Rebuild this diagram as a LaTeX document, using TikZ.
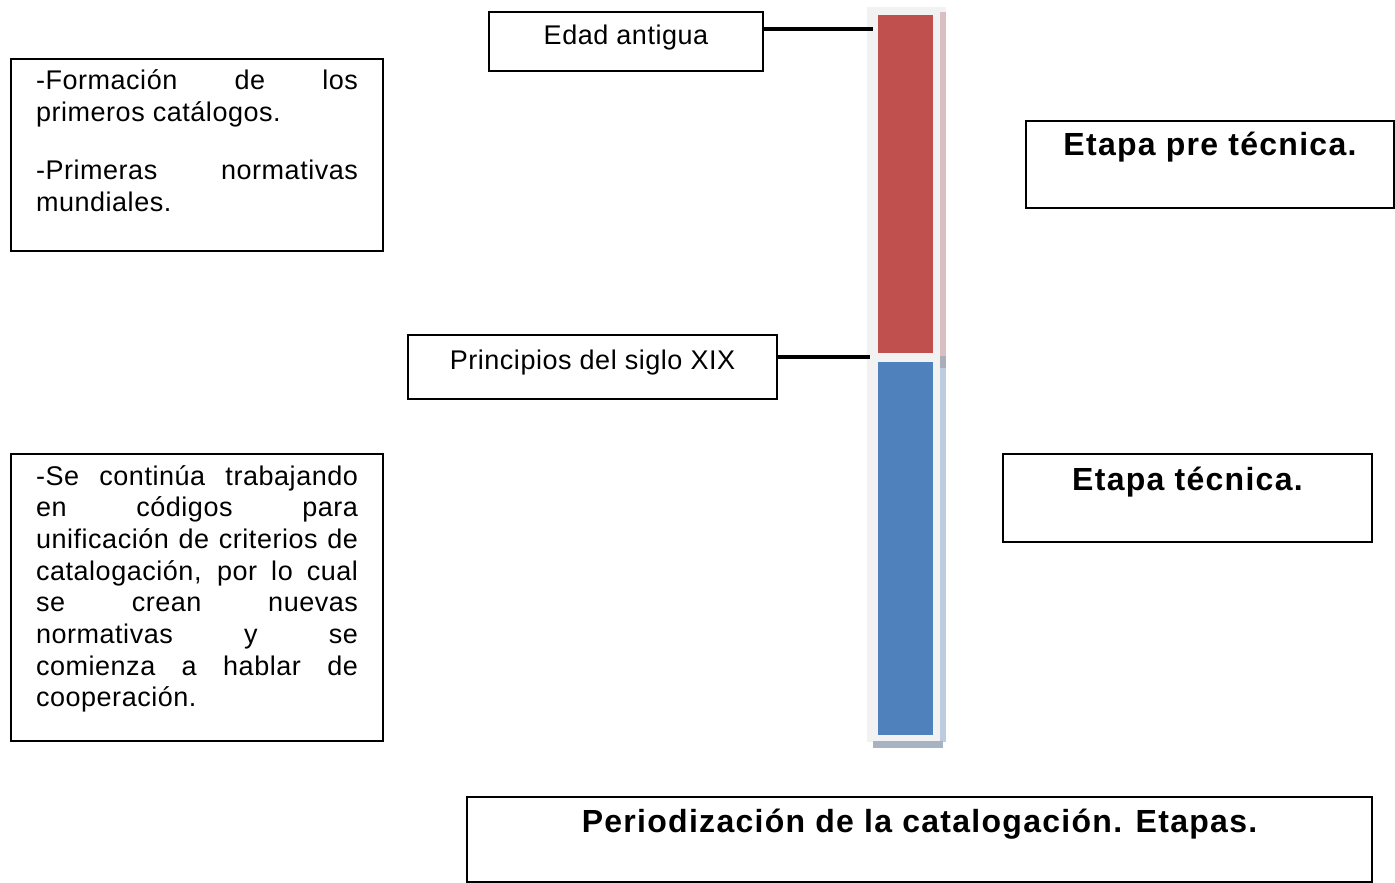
\documentclass[tikz,border=0pt]{standalone}
\usepackage{fontspec}
\setmainfont{Liberation Sans}[LetterSpace=2]
\newfontfamily\titlefont{Liberation Sans}[LetterSpace=4]
\newcommand\JustLine[1]{\makebox[\linewidth][s]{#1}}
\definecolor{redbar}{HTML}{C0504D}
\definecolor{bluebar}{HTML}{4F81BD}
\definecolor{barbg}{HTML}{F2F2F2}
\definecolor{stripred}{HTML}{D9BEC2}
\definecolor{stripblue}{HTML}{BCCBDD}
\definecolor{stripmid}{HTML}{A9AEB8}
\definecolor{barshadow}{HTML}{A7B3C3}
\begin{document}
\begin{tikzpicture}[x=0.5pt,y=-0.5pt,
  every node/.style={font=\fontsize{13.5pt}{15.85pt}\selectfont},
  box/.style={draw, line width=1pt, inner sep=0pt, anchor=north west},
  textbox/.style={box, inner xsep=12.5pt, inner ysep=0pt},
  titlebox/.style={box, font=\titlefont\bfseries\fontsize{16pt}{19pt}\selectfont},
  conn/.style={line width=2pt},
  barpart/.style={inner sep=0pt, anchor=north west, minimum width=27.5pt}
]
\useasboundingbox (0,0) rectangle (1395,882);

% bar
\fill[barbg] (867,7) rectangle (946,742);
\fill[stripred] (940,12) rectangle (946,356);
\fill[stripmid] (940,356) rectangle (946,368);
\fill[stripblue] (940,368) rectangle (946,742);
\fill[barshadow] (873,741) rectangle (943,748);
\node[barpart, fill=redbar, minimum height=169pt] (red) at (878,15) {};
\node[barpart, fill=bluebar, minimum height=186.5pt] (blue) at (878,362) {};

% left text boxes
\node[textbox] (f1) at (10,58) {\parbox[c][96pt][t]{161pt}{%
  \rule{0pt}{15.5pt}\JustLine{-Formación de los}\\
  primeros catálogos.\par\vspace{13pt}
  \JustLine{-Primeras normativas}\\
  mundiales.}};
\node[textbox] (f2) at (10,453) {\parbox[c][143.5pt][t]{161pt}{%
  \rule{0pt}{15.5pt}\JustLine{-Se continúa trabajando}\\
  \JustLine{en códigos para}\\
  \JustLine{unificación de criterios de}\\
  \JustLine{catalogación, por lo cual}\\
  \JustLine{se crean nuevas}\\
  \JustLine{normativas y se}\\
  \JustLine{comienza a hablar de}\\
  cooperación.}};

% date boxes
\node[box, minimum width=137pt, text height=16.5pt, text depth=13pt] (edad) at (488,11) {Edad antigua};
\node[box, minimum width=184.5pt, text height=17pt, text depth=15pt] (siglo) at (407,334) {Principios del siglo XIX};

% connectors
\coordinate (k1) at (873,29);
\coordinate (k2) at (870,357);
\draw[conn] (edad.east |- k1) -- (k1);
\draw[conn] (siglo.east |- k2) -- (k2);

% stage boxes
\node[titlebox, minimum width=184pt, text height=17.5pt, text depth=26pt] (pre) at (1025,120) {Etapa pre técnica.};
\node[titlebox, minimum width=184.5pt, text height=18pt, text depth=26pt] (tec) at (1002,453) {Etapa técnica.};
\node[titlebox, minimum width=452.5pt, text height=17.5pt, text depth=25pt] (tit) at (466,796) {Periodización de la catalogación. Etapas.};
\end{tikzpicture}
\end{document}
